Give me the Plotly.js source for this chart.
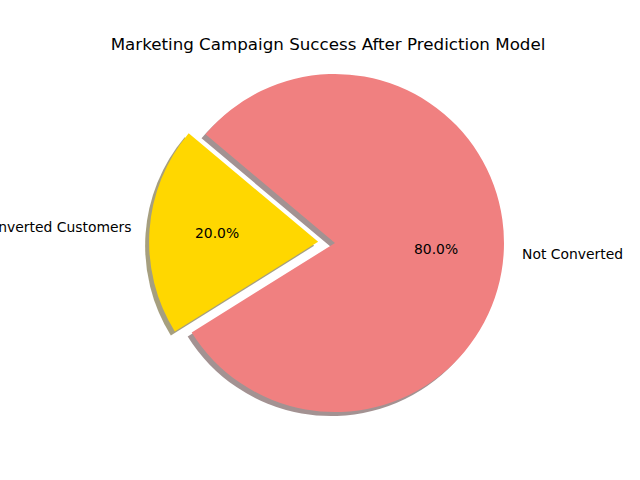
<!DOCTYPE html>
<html>
<head>
<meta charset="utf-8">
<script src="https://cdn.plot.ly/plotly-3.0.1.min.js"></script>
<style>html,body{margin:0;padding:0;background:#fff}#chart{width:640px;height:480px}</style>
</head>
<body>
<div id="chart"></div>
<script>
const labels = ['Converted Customers', 'Not Converted'];
const values = [20, 80];
const colors = ['#FFD700', '#F08080'];
const shadowColors = ['rgba(77,64,0,0.5)', 'rgba(72,38,38,0.5)'];
const explode = [0.1, 0];
const startAngle = 140; // degrees, counterclockwise from 3 o'clock
const titleText = 'Marketing Campaign Success After Prediction Model';

const W = 640, H = 480;
const cx = 335, cy = 243, R = 169;
const shadowShift = 4;
const maxPull = Math.max(...explode);
const half = R * (1 + maxPull);
const total = values.reduce((a, b) => a + b, 0);

function domainAt(dx, dy) {
  return {
    x: [(cx + dx - half) / W, (cx + dx + half) / W],
    y: [1 - (cy + dy + half) / H, 1 - (cy + dy - half) / H]
  };
}

// Plotly (counterclockwise): first slice occupies clockwise-angles [rotation, rotation + slice]
const rotation = 90 - startAngle - 360 * values[0] / total;

const common = {
  type: 'pie',
  labels: labels,
  values: values,
  sort: false,
  direction: 'counterclockwise',
  rotation: rotation,
  pull: explode,
  textinfo: 'none',
  hoverinfo: 'skip',
  showlegend: false
};

const shadow = Object.assign({}, common, {
  domain: domainAt(-shadowShift, shadowShift),
  marker: {colors: shadowColors, line: {width: 0}}
});
const main = Object.assign({}, common, {
  domain: domainAt(0, 0),
  marker: {colors: colors, line: {width: 0}}
});

// text positions derived from the data (matplotlib-style label/pct placement)
const annotations = [];
let cum = 0;
values.forEach((v, i) => {
  const frac = v / total;
  const mid = (startAngle + 360 * (cum + frac / 2)) * Math.PI / 180;
  cum += frac;
  const ox = cx + explode[i] * R * Math.cos(mid);
  const oy = cy - explode[i] * R * Math.sin(mid);
  const lx = ox + 1.1 * R * Math.cos(mid);
  const ly = oy - 1.1 * R * Math.sin(mid);
  const px = ox + 0.6 * R * Math.cos(mid);
  const py = oy - 0.6 * R * Math.sin(mid);
  annotations.push({
    xref: 'paper', yref: 'paper', x: lx / W, y: 1 - ly / H, yshift: 1.5,
    text: labels[i], showarrow: false,
    xanchor: Math.cos(mid) < 0 ? 'right' : 'left', yanchor: 'middle',
    font: {family: 'DejaVu Sans', size: 13.9, color: '#000'}
  });
  annotations.push({
    xref: 'paper', yref: 'paper', x: px / W, y: 1 - py / H, yshift: 1.5,
    text: (frac * 100).toFixed(1) + '%', showarrow: false,
    xanchor: 'center', yanchor: 'middle',
    font: {family: 'DejaVu Sans', size: 13.9, color: '#000'}
  });
});

const layout = {
  width: W, height: H,
  margin: {l: 0, r: 0, t: 0, b: 0},
  paper_bgcolor: '#fff',
  title: {
    text: titleText,
    x: 328 / W, xanchor: 'center', xref: 'container',
    y: 1 - 44 / H, yanchor: 'middle', yref: 'container',
    font: {family: 'DejaVu Sans', size: 16.7, color: '#000'}
  },
  annotations: annotations
};

Plotly.newPlot('chart', [shadow, main], layout, {displayModeBar: false, staticPlot: true});
</script>
</body>
</html>
